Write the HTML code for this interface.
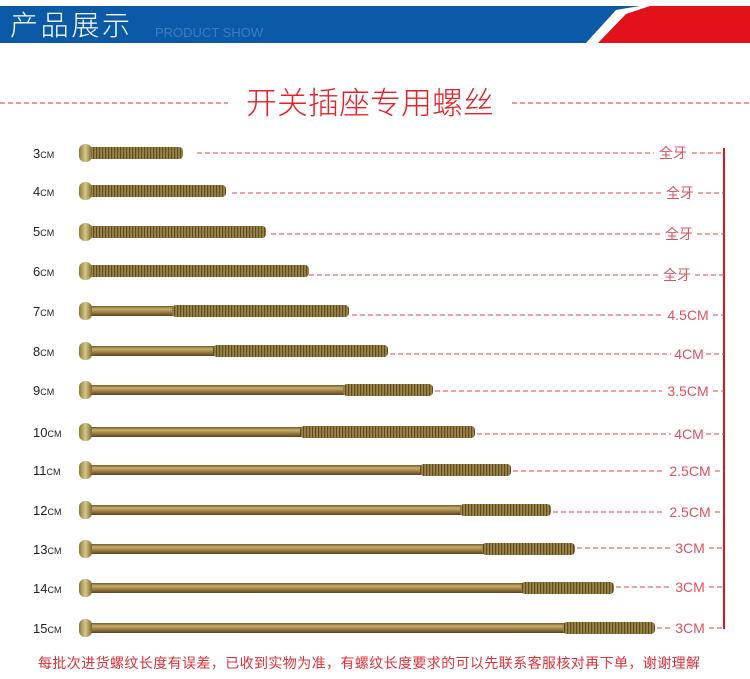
<!DOCTYPE html>
<html><head><meta charset="utf-8"><style>
body{margin:0;background:#fff;width:750px;height:679px;overflow:hidden}
svg{display:block}
</style></head><body>
<svg width="750" height="679" xmlns="http://www.w3.org/2000/svg">
<defs>
<linearGradient id="sh" x1="0" y1="0" x2="0" y2="1">
<stop offset="0" stop-color="#6b5a2a"/><stop offset="0.3" stop-color="#c9ae6a"/><stop offset="0.55" stop-color="#a8874a"/><stop offset="1" stop-color="#5a4520"/></linearGradient>
<linearGradient id="hd" x1="0" y1="0" x2="1" y2="0">
<stop offset="0" stop-color="#8a7a3e"/><stop offset="0.5" stop-color="#d8c888"/><stop offset="1" stop-color="#7a6530"/></linearGradient>
<pattern id="th" width="3" height="12" patternUnits="userSpaceOnUse"><rect width="3" height="12" fill="#9c8448"/><rect width="1.2" height="12" fill="#5e4c22"/></pattern>
</defs>
<rect x="0" y="6" width="750" height="37" fill="#0a5aa8"/>
<polygon points="586,43 616,10 640,6 750,6 750,43" fill="#fff"/>
<polygon points="598,43 626,14 650,6 750,6 750,43" fill="#e2121b"/>
<text x="10" y="35" font-family="'Noto Sans CJK SC',sans-serif" font-size="28" fill="#fff" font-weight="300" textLength="120">产品展示</text>
<text x="155" y="37" font-family="Liberation Sans,sans-serif" font-size="13" fill="#3f7cc4">PRODUCT SHOW</text>
<line x1="0" y1="103" x2="228" y2="103" stroke="#e83030" stroke-dasharray="5,3"/>
<line x1="512" y1="103" x2="750" y2="103" stroke="#e83030" stroke-dasharray="5,3"/>
<text x="370" y="114" text-anchor="middle" font-family="'Noto Sans CJK SC',sans-serif" font-size="31" fill="#e8202a" font-weight="300">开关插座专用螺丝</text>
<line x1="724" y1="148" x2="724" y2="629" stroke="#e2121b" stroke-width="2"/>
<g font-family="Liberation Sans,'Noto Sans CJK SC',sans-serif" font-size="13" fill="#222">
<text x="33" y="158">3<tspan font-size="9">CM</tspan></text>
<text x="33" y="196">4<tspan font-size="9">CM</tspan></text>
<text x="33" y="236">5<tspan font-size="9">CM</tspan></text>
<text x="33" y="276">6<tspan font-size="9">CM</tspan></text>
<text x="33" y="316">7<tspan font-size="9">CM</tspan></text>
<text x="33" y="356">8<tspan font-size="9">CM</tspan></text>
<text x="33" y="395">9<tspan font-size="9">CM</tspan></text>
<text x="33" y="437">10<tspan font-size="9">CM</tspan></text>
<text x="33" y="475">11<tspan font-size="9">CM</tspan></text>
<text x="33" y="515">12<tspan font-size="9">CM</tspan></text>
<text x="33" y="554">13<tspan font-size="9">CM</tspan></text>
<text x="33" y="593">14<tspan font-size="9">CM</tspan></text>
<text x="33" y="633">15<tspan font-size="9">CM</tspan></text>
</g>
<g id="screws">
<g transform="translate(0,153)"><rect x="88" y="-6" width="95" height="12" rx="4" fill="url(#th)"/><rect x="79" y="-9" width="13" height="18" rx="6" fill="url(#hd)"/></g>
<g transform="translate(0,191)"><rect x="88" y="-6" width="138" height="12" rx="4" fill="url(#th)"/><rect x="79" y="-9" width="13" height="18" rx="6" fill="url(#hd)"/></g>
<g transform="translate(0,232)"><rect x="88" y="-6" width="178" height="12" rx="4" fill="url(#th)"/><rect x="79" y="-9" width="13" height="18" rx="6" fill="url(#hd)"/></g>
<g transform="translate(0,271)"><rect x="88" y="-6" width="221" height="12" rx="4" fill="url(#th)"/><rect x="79" y="-9" width="13" height="18" rx="6" fill="url(#hd)"/></g>
<g transform="translate(0,311)"><rect x="88" y="-5" width="90" height="10" fill="url(#sh)"/><rect x="172" y="-6" width="177" height="12" rx="4" fill="url(#th)"/><rect x="79" y="-9" width="13" height="18" rx="6" fill="url(#hd)"/></g>
<g transform="translate(0,351)"><rect x="88" y="-5" width="130" height="10" fill="url(#sh)"/><rect x="213" y="-6" width="175" height="12" rx="4" fill="url(#th)"/><rect x="79" y="-9" width="13" height="18" rx="6" fill="url(#hd)"/></g>
<g transform="translate(0,390)"><rect x="88" y="-5" width="260" height="10" fill="url(#sh)"/><rect x="343" y="-6" width="90" height="12" rx="4" fill="url(#th)"/><rect x="79" y="-9" width="13" height="18" rx="6" fill="url(#hd)"/></g>
<g transform="translate(0,432)"><rect x="88" y="-5" width="217" height="10" fill="url(#sh)"/><rect x="300" y="-6" width="175" height="12" rx="4" fill="url(#th)"/><rect x="79" y="-9" width="13" height="18" rx="6" fill="url(#hd)"/></g>
<g transform="translate(0,470)"><rect x="88" y="-5" width="337" height="10" fill="url(#sh)"/><rect x="420" y="-6" width="91" height="12" rx="4" fill="url(#th)"/><rect x="79" y="-9" width="13" height="18" rx="6" fill="url(#hd)"/></g>
<g transform="translate(0,510)"><rect x="88" y="-5" width="377" height="10" fill="url(#sh)"/><rect x="460" y="-6" width="91" height="12" rx="4" fill="url(#th)"/><rect x="79" y="-9" width="13" height="18" rx="6" fill="url(#hd)"/></g>
<g transform="translate(0,549)"><rect x="88" y="-5" width="399" height="10" fill="url(#sh)"/><rect x="482" y="-6" width="93" height="12" rx="4" fill="url(#th)"/><rect x="79" y="-9" width="13" height="18" rx="6" fill="url(#hd)"/></g>
<g transform="translate(0,588)"><rect x="88" y="-5" width="438" height="10" fill="url(#sh)"/><rect x="521" y="-6" width="93" height="12" rx="4" fill="url(#th)"/><rect x="79" y="-9" width="13" height="18" rx="6" fill="url(#hd)"/></g>
<g transform="translate(0,628)"><rect x="88" y="-5" width="480" height="10" fill="url(#sh)"/><rect x="563" y="-6" width="92" height="12" rx="4" fill="url(#th)"/><rect x="79" y="-9" width="13" height="18" rx="6" fill="url(#hd)"/></g>
</g>
<g stroke="#e84050" stroke-dasharray="5,3" stroke-width="1">
<line x1="197" y1="153" x2="654" y2="153"/><line x1="692" y1="153" x2="724" y2="153"/>
<line x1="232" y1="193" x2="661" y2="193"/><line x1="698" y1="193" x2="724" y2="193"/>
<line x1="271" y1="234" x2="660" y2="234"/><line x1="697" y1="234" x2="724" y2="234"/>
<line x1="309" y1="275" x2="658" y2="275"/><line x1="695" y1="275" x2="724" y2="275"/>
<line x1="352" y1="315" x2="662" y2="315"/><line x1="713" y1="315" x2="724" y2="315"/>
<line x1="390" y1="354" x2="671" y2="354"/><line x1="706" y1="354" x2="724" y2="354"/>
<line x1="435" y1="391" x2="662" y2="391"/><line x1="713" y1="391" x2="724" y2="391"/>
<line x1="477" y1="434" x2="671" y2="434"/><line x1="706" y1="434" x2="724" y2="434"/>
<line x1="513" y1="471" x2="665" y2="471"/><line x1="715" y1="471" x2="724" y2="471"/>
<line x1="553" y1="512" x2="665" y2="512"/><line x1="715" y1="512" x2="724" y2="512"/>
<line x1="577" y1="548" x2="671" y2="548"/><line x1="709" y1="548" x2="724" y2="548"/>
<line x1="616" y1="587" x2="671" y2="587"/><line x1="709" y1="587" x2="724" y2="587"/>
<line x1="657" y1="628" x2="671" y2="628"/><line x1="709" y1="628" x2="724" y2="628"/>
</g>
<g font-family="Liberation Sans,'Noto Sans CJK SC',sans-serif" font-size="14" fill="#e05060" text-anchor="middle">
<text x="673" y="158">全牙</text><text x="680" y="198">全牙</text><text x="679" y="239">全牙</text><text x="677" y="280">全牙</text>
<text x="688" y="320">4.5CM</text><text x="689" y="359">4CM</text><text x="688" y="396">3.5CM</text><text x="689" y="439">4CM</text>
<text x="690" y="476">2.5CM</text><text x="690" y="517">2.5CM</text><text x="690" y="553">3CM</text><text x="690" y="592">3CM</text><text x="690" y="633">3CM</text>
</g>
<text x="38" y="668" font-family="'Noto Sans CJK SC',sans-serif" font-size="14" fill="#e0303a" textLength="662">每批次进货螺纹长度有误差，已收到实物为准，有螺纹长度要求的可以先联系客服核对再下单，谢谢理解</text>
</svg>
</body></html>
